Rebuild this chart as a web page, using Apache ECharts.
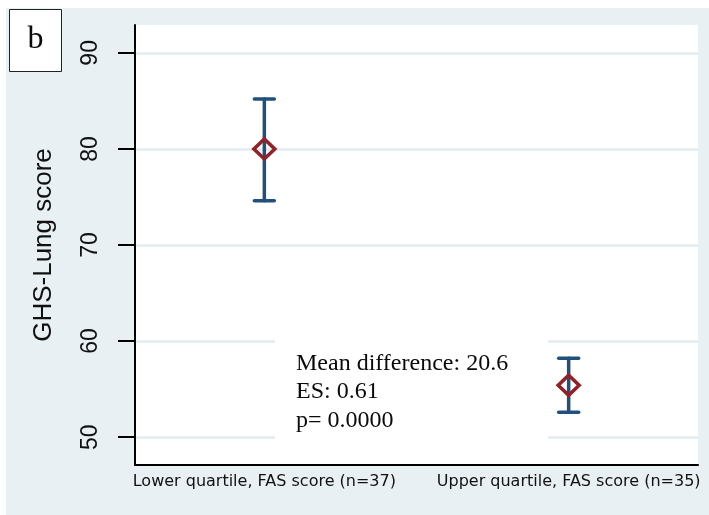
<!DOCTYPE html>
<html>
<head>
<meta charset="utf-8">
<script src="https://cdn.jsdelivr.net/npm/echarts@6/dist/echarts.min.js"></script>
<style>
html,body{margin:0;padding:0;background:#fff;}
#chart{width:709px;height:515px;}
</style>
</head>
<body>
<div id="chart"></div>
<script>
const categories = ['Lower quartile, FAS score (n=37)', 'Upper quartile, FAS score (n=35)'];
const xPositions = [1, 2];
const means = [80.0, 55.4];
const lower = [74.6, 52.6];
const upper = [85.2, 58.2];
const yTicks = [50, 60, 70, 80, 90];
const yTitle = 'GHS-Lung score';
const panelLabel = 'b';
const annotation = ['Mean difference: 20.6', 'ES: 0.61', 'p= 0.0000'];

const BG = '#e9f0f3';
const GRIDC = '#e3ecf0';
const BLUE = '#21507c';
const RED = '#922128';

const chart = echarts.init(document.getElementById('chart'), null, {renderer: 'canvas'});

const option = {
  backgroundColor: '#ffffff',
  animation: false,
  grid: {
    left: 135, right: 11, top: 25, bottom: 50,
    show: true, backgroundColor: '#ffffff', borderWidth: 0
  },
  xAxis: {
    type: 'value',
    min: 0.575, max: 2.425,
    axisLine: {show: true, onZero: false, lineStyle: {color: '#000', width: 2}},
    axisTick: {show: false},
    splitLine: {show: false},
    axisLabel: {
      customValues: xPositions,
      margin: 9,
      fontFamily: 'DejaVu Sans',
      fontSize: 16,
      color: '#111',
      formatter: function (v) {
        const i = xPositions.indexOf(Math.round(v));
        return i >= 0 ? categories[i] : '';
      }
    }
  },
  yAxis: {
    type: 'value',
    min: 47.1, max: 92.9,
    name: yTitle,
    nameLocation: 'middle',
    nameGap: 78,
    nameTextStyle: {fontFamily: 'Liberation Sans', fontSize: 26, color: '#111'},
    axisLine: {show: true, onZero: false, lineStyle: {color: '#000', width: 2}},
    axisTick: {show: true, customValues: yTicks, length: 17, lineStyle: {color: '#000', width: 2}},
    axisLabel: {
      customValues: yTicks,
      rotate: 90,
      margin: 33,
      fontFamily: 'Liberation Sans',
      fontSize: 23,
      color: '#111'
    },
    splitLine: {show: true, lineStyle: {color: GRIDC, width: 2.5}}
  },
  graphic: [
    {type: 'rect', z: -100, shape: {x: 6, y: 8, width: 703, height: 507}, style: {fill: BG}, silent: true},
    {type: 'rect', z: 1, shape: {x: 275, y: 333, width: 273, height: 114}, style: {fill: '#ffffff'}, silent: true},
    {type: 'text', z: 5, x: 296, y: 349,
      style: {text: annotation.join('\n'), fontFamily: 'Liberation Serif', fontSize: 24, lineHeight: 28.5, fill: '#0a0a0a'}},
    {type: 'rect', z: 5, shape: {x: 9.5, y: 9.5, width: 52, height: 62}, style: {fill: '#ffffff', stroke: '#222', lineWidth: 1}},
    {type: 'text', z: 6, x: 35.5, y: 40,
      style: {text: panelLabel, fontFamily: 'Liberation Serif', fontSize: 32, fill: '#0a0a0a', align: 'center', verticalAlign: 'middle'}}
  ],
  series: [
    {
      type: 'custom',
      z: 3,
      data: xPositions.map((x, i) => [x, lower[i], upper[i]]),
      encode: {x: 0, y: [1, 2]},
      renderItem: function (params, api) {
        const x = api.value(0);
        const lo = api.coord([x, api.value(1)]);
        const hi = api.coord([x, api.value(2)]);
        const hw = 10;
        const st = {stroke: BLUE, lineWidth: 3.5, lineCap: 'round'};
        return {
          type: 'group',
          children: [
            {type: 'line', shape: {x1: lo[0], y1: lo[1], x2: hi[0], y2: hi[1]}, style: st},
            {type: 'line', shape: {x1: lo[0] - hw, y1: lo[1], x2: lo[0] + hw, y2: lo[1]}, style: st},
            {type: 'line', shape: {x1: hi[0] - hw, y1: hi[1], x2: hi[0] + hw, y2: hi[1]}, style: st}
          ]
        };
      }
    },
    {
      type: 'scatter',
      z: 4,
      data: xPositions.map((x, i) => [x, means[i]]),
      symbol: 'diamond',
      symbolSize: [21, 20],
      itemStyle: {color: 'rgba(255,255,255,0)', borderColor: RED, borderWidth: 3.5, opacity: 1},
      emphasis: {disabled: true}
    }
  ]
};
chart.setOption(option);
</script>
</body>
</html>
